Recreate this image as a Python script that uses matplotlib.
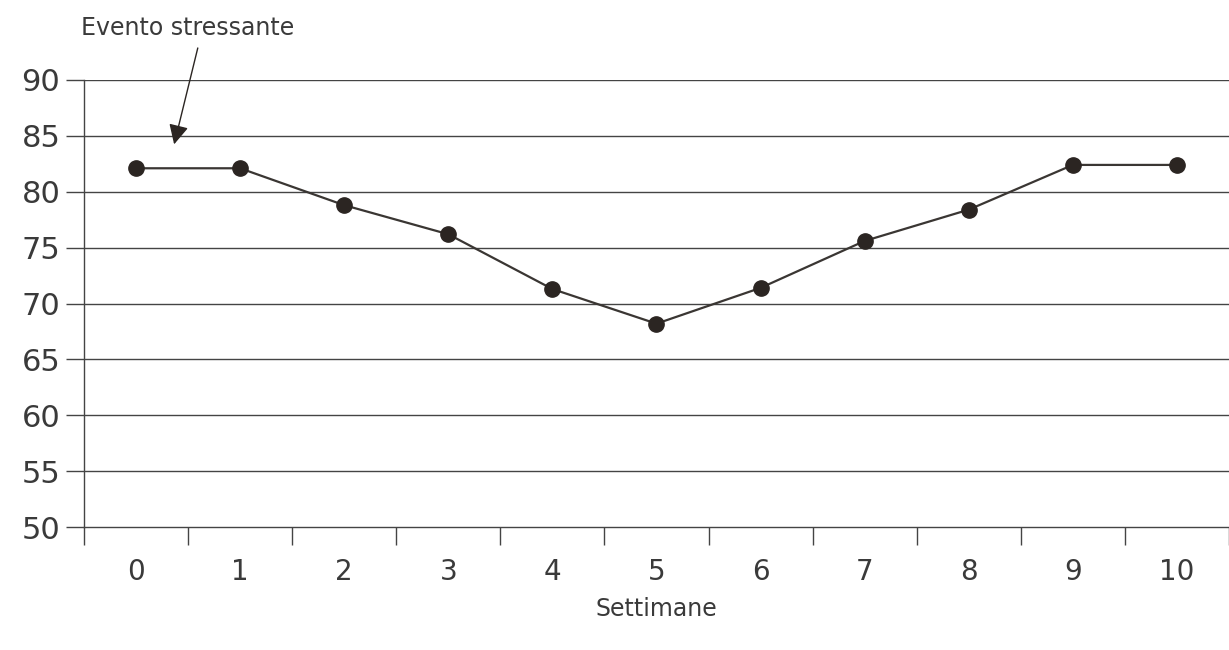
import numpy as np
import matplotlib.pyplot as plt

weeks = [0, 1, 2, 3, 4, 5, 6, 7, 8, 9, 10]
scores = [82.1, 82.1, 78.8, 76.2, 71.3, 68.2, 71.4, 75.6, 78.4, 82.4, 82.4]
yticks = [50, 55, 60, 65, 70, 75, 80, 85, 90]

txt = '#3a3a3a'
fig = plt.figure(figsize=(12.29, 6.5), dpi=100)
ax = fig.add_axes([0.0683, 0.189, 0.9317, 0.688])

for v in yticks[1:]:
    ax.axhline(v, color='#444444', lw=1.0, zorder=1)

ax.plot(weeks, scores, color='#3a3633', lw=1.6, zorder=2)
ax.plot(weeks, scores, 'o', color='#2b2522', ms=11, zorder=3)

ax.set_xlim(-0.5, 10.5)
ax.set_ylim(50, 90)
ax.set_yticks(yticks)
ax.tick_params(axis='y', direction='out', length=13, width=1.0, color='#444444',
               labelsize=22, labelcolor=txt, pad=4)

# category boundaries as major ticks, labels at the centres
ax.set_xticks(np.arange(-0.5, 11, 1.0))
ax.set_xticklabels([])
ax.set_xticks(weeks, minor=True)
ax.set_xticklabels([str(w) for w in weeks], minor=True)
ax.tick_params(axis='x', which='major', direction='out', length=13, width=1.0, color='#444444')
ax.tick_params(axis='x', which='minor', length=0, labelsize=20, labelcolor=txt, pad=22)

for s in ['top', 'right']:
    ax.spines[s].set_visible(False)
for s in ['left', 'bottom']:
    ax.spines[s].set_color('#444444')
    ax.spines[s].set_linewidth(1.0)

ax.set_xlabel('Settimane', fontsize=17, color=txt, labelpad=8)

fig.text(0.153, 0.957, 'Evento stressante', fontsize=17, color=txt, ha='center', va='center')
ax.annotate('', xy=(0.36, 84.0), xytext=(0.60, 93.1), annotation_clip=False,
            arrowprops=dict(arrowstyle='-|>', color='#2b2522', lw=1.0, mutation_scale=30))

fig.savefig('out.png', dpi=100, facecolor='white')
